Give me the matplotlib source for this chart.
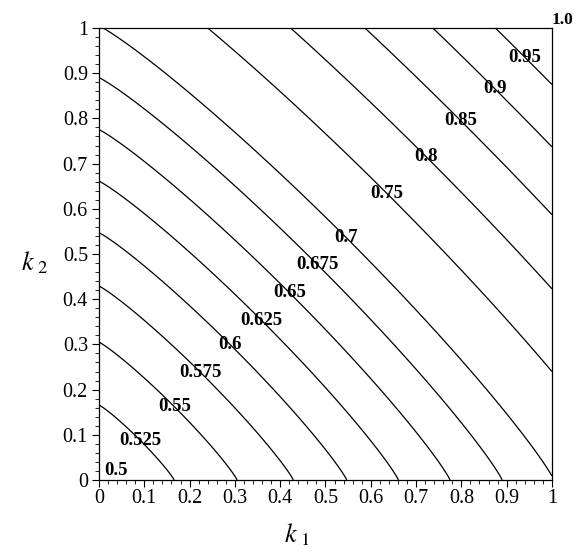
import numpy as np
import matplotlib.pyplot as plt

plt.rcParams['font.family'] = ['Liberation Serif', 'DejaVu Serif']
plt.rcParams['mathtext.fontset'] = 'stix'

# contour levels of the surface
levels = [0.5, 0.525, 0.55, 0.575, 0.6, 0.625, 0.65, 0.675,
          0.7, 0.75, 0.8, 0.85, 0.9, 0.95, 1.0]
# k1 where the lower contours (0.5 .. 0.675) meet the k1 axis (k2 = 0)
k1_at_bottom = [0.0, 0.166, 0.305, 0.429, 0.547, 0.661, 0.775, 0.890]
# k1 where the upper contours (0.7 .. 1.0) meet the top edge (k2 = 1)
k1_at_top = [0.009, 0.24, 0.423, 0.587, 0.737, 0.875, 1.0]

# contours are close to k1 + k2 = const, slightly bowed outward
p = 1.12
radius = np.concatenate([k1_at_bottom,
                         (1 + np.array(k1_at_top) ** p) ** (1 / p)])

k = np.linspace(0, 1, 501)
K1, K2 = np.meshgrid(k, k)
R = (K1 ** p + K2 ** p) ** (1 / p)
F = np.interp(R, radius, levels)

fig = plt.figure(figsize=(5.81, 5.53), dpi=100)
ax = fig.add_axes([0.1704, 0.132, 0.7796, 0.8174])

cs = ax.contour(K1, K2, F, levels=levels[1:-1], colors='black', linewidths=0.9)

# label spots along the diagonal, as in the picture
label_pos = [(0.09, 0.087), (0.173, 0.168), (0.223, 0.237), (0.294, 0.303),
             (0.367, 0.361), (0.426, 0.42), (0.477, 0.472), (0.532, 0.524),
             (0.624, 0.622), (0.713, 0.708), (0.794, 0.789), (0.871, 0.863),
             (0.937, 0.933)]
txts = ax.clabel(cs, inline=False, manual=label_pos, fmt='%g', fontsize=13.5)
for t in txts:
    t.set_rotation(0)
    t.set_fontweight('bold')

# the end levels are single points at the corners
ax.text(0.037, 0.022, '%g' % levels[0], fontsize=13.5, fontweight='bold',
        ha='center', va='center')
ax.text(1.0, 1.0, '%.1f' % levels[-1], fontsize=12.5, fontweight='bold',
        ha='left', va='bottom', clip_on=False)

ax.set_xlim(0, 1)
ax.set_ylim(0, 1)
ticks = np.round(np.arange(0, 1.01, 0.1), 1)
ax.set_xticks(ticks)
ax.set_yticks(ticks)
ax.set_xticklabels(['%g' % t for t in ticks])
ax.set_yticklabels(['%g' % t for t in ticks])
ax.set_xticks(np.arange(0, 1.001, 0.02), minor=True)
ax.set_yticks(np.arange(0, 1.001, 0.02), minor=True)
ax.tick_params(which='major', direction='out', length=5, width=0.8,
               labelsize=14.5)
ax.tick_params(axis='x', which='major', pad=1.5)
ax.tick_params(axis='y', which='major', pad=3)
ax.tick_params(which='minor', direction='out', length=3, width=0.6)

ax.set_xlabel(r'$k_{\ \mathrm{1}}$', fontsize=19)
ax.xaxis.set_label_coords(0.437, -0.122)
ax.set_ylabel(r'$k_{\ \mathrm{2}}$', fontsize=19, rotation=0)
ax.yaxis.set_label_coords(-0.142, 0.48)
ax.xaxis.label.set_va('center')
ax.yaxis.label.set_va('center')

for s in ax.spines.values():
    s.set_linewidth(0.9)

fig.savefig('out.png', dpi=100)
